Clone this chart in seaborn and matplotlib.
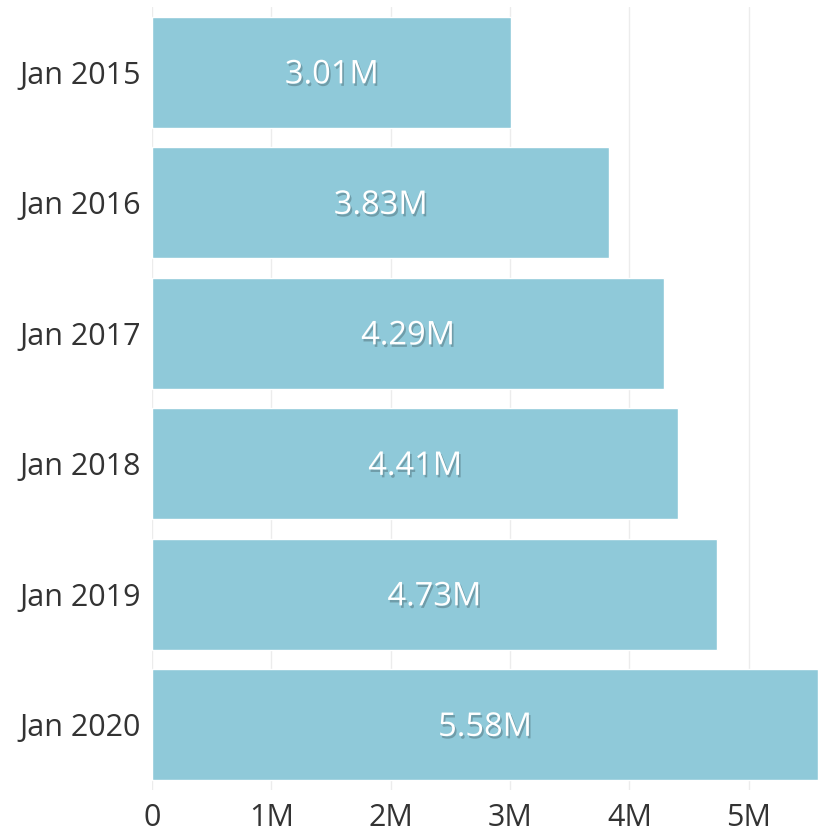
import matplotlib
matplotlib.use("Agg")
import matplotlib.pyplot as plt
import matplotlib.patheffects as pe
import seaborn as sns
import pandas as pd

categories = ["Jan 2015", "Jan 2016", "Jan 2017", "Jan 2018", "Jan 2019", "Jan 2020"]
values = [3.01e6, 3.83e6, 4.29e6, 4.41e6, 4.73e6, 5.58e6]
value_labels = ["3.01M", "3.83M", "4.29M", "4.41M", "4.73M", "5.58M"]
x_ticks = [0, 1e6, 2e6, 3e6, 4e6, 5e6]
x_tick_labels = ["0", "1M", "2M", "3M", "4M", "5M"]

sns.set_theme(style="white")
plt.rcParams["font.family"] = ["Open Sans", "DejaVu Sans"]

df = pd.DataFrame({"period": categories, "value": values})

fig = plt.figure(figsize=(8.18, 8.36), dpi=100)
ax = fig.add_axes([152 / 818, 1 - 790 / 836, 1 - 152 / 818, (790 - 7) / 836])

sns.barplot(data=df, y="period", x="value", color="#8fc9d9", saturation=1,
            width=0.85, ax=ax, zorder=2)

ax.set_xlim(0, 5.58e6)
ax.set_xticks(x_ticks)
ax.set_xticklabels(x_tick_labels)
ax.set_xlabel("")
ax.set_ylabel("")
ax.grid(axis="x", color="#ececec", linewidth=1, zorder=0)
ax.set_axisbelow(True)
for s in ax.spines.values():
    s.set_visible(False)
ax.tick_params(axis="both", length=0, labelsize=22, colors="#333333")
ax.tick_params(axis="y", pad=8)
ax.tick_params(axis="x", pad=9)

for i, (v, lab) in enumerate(zip(values, value_labels)):
    ax.text(v / 2, i + 0.02, lab, ha="center", va="center", color="white", fontsize=23.5,
            zorder=3,
            path_effects=[pe.withSimplePatchShadow(offset=(1.2, -1.8), shadow_rgbFace="#000000", alpha=0.22)])

fig.savefig("out.png", dpi=100)
